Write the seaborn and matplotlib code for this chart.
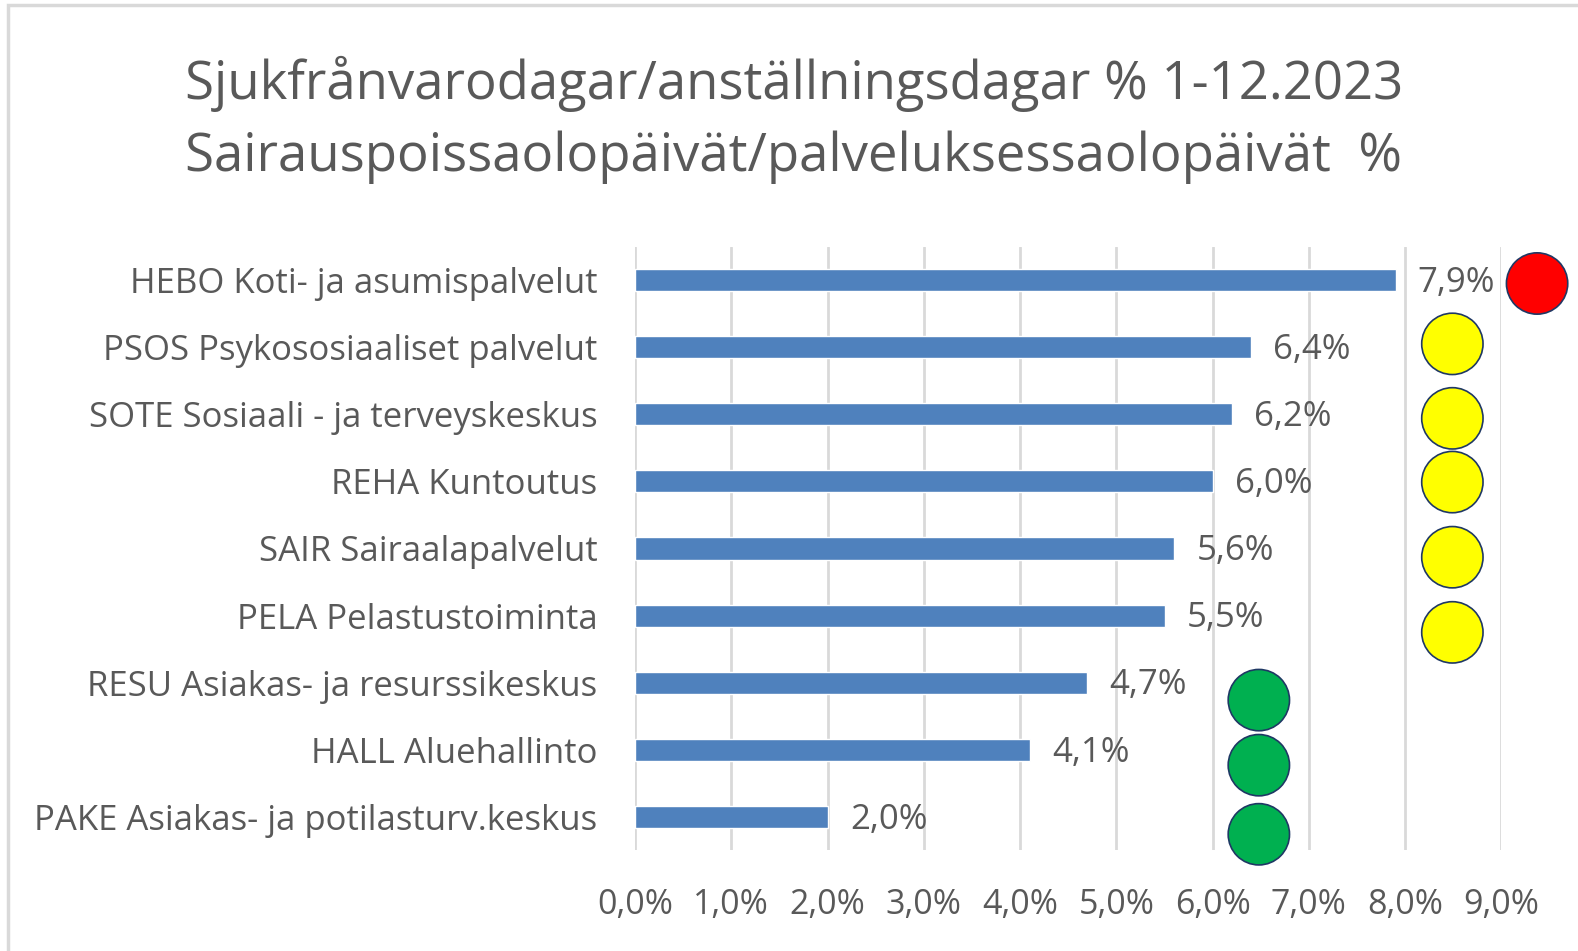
import matplotlib
matplotlib.use("Agg")
import matplotlib.pyplot as plt
import seaborn as sns
import pandas as pd
from matplotlib.patches import Rectangle

categories = [
    "HEBO Koti- ja asumispalvelut",
    "PSOS Psykososiaaliset palvelut",
    "SOTE Sosiaali - ja terveyskeskus",
    "REHA Kuntoutus",
    "SAIR Sairaalapalvelut",
    "PELA Pelastustoiminta",
    "RESU Asiakas- ja resurssikeskus",
    "HALL Aluehallinto",
    "PAKE Asiakas- ja potilasturv.keskus",
]
values = [7.9, 6.4, 6.2, 6.0, 5.6, 5.5, 4.7, 4.1, 2.0]
status = ["red", "yellow", "yellow", "yellow", "yellow", "yellow", "green", "green", "green"]
indicator_x = [9.37, 8.49, 8.49, 8.49, 8.49, 8.49, 6.48, 6.48, 6.48]
indicator_y = [0.05, 0.95, 2.06, 3.01, 4.13, 5.25, 6.26, 7.23, 8.26]
xticks = [0, 1, 2, 3, 4, 5, 6, 7, 8, 9]
title_lines = ["Sjukfrånvarodagar/anställningsdagar % 1-12.2023",
               "Sairauspoissaolopäivät/palveluksessaolopäivät  %"]

status_colors = {"red": "#FF0000", "yellow": "#FFFF00", "green": "#00B050"}
text_color = "#595959"

sns.set_theme(style="white")
plt.rcParams["font.family"] = ["Open Sans", "DejaVu Sans"]

fig = plt.figure(figsize=(15.78, 9.51), dpi=100)
ax = fig.add_axes([0.4024, 0.1058, 0.5491, 0.6349])

df = pd.DataFrame({"category": categories, "value": values})
sns.barplot(data=df, x="value", y="category", orient="h", color="#4F81BD",
            saturation=1, width=0.33, ax=ax, zorder=3)

ax.set_xlim(0, 9)
ax.set_ylim(8.5, -0.5)
ax.set_xticks(xticks)
ax.set_xticklabels([f"{t:.1f}%".replace(".", ",") for t in xticks])
ax.grid(axis="x", color="#D9D9D9", linewidth=2, zorder=0)
ax.set_axisbelow(True)
for s in ax.spines.values():
    s.set_visible(False)
ax.set_xlabel("")
ax.set_ylabel("")
ax.tick_params(axis="y", length=0, pad=27, labelsize=25, labelcolor=text_color)
ax.tick_params(axis="x", length=0, pad=27, labelsize=24.5, labelcolor=text_color)

for i, v in enumerate(values):
    ax.annotate(f"{v:.1f}%".replace(".", ","), xy=(v, i), xytext=(16, -2),
                textcoords="offset points", ha="left", va="center",
                fontsize=25, color=text_color)

ax.scatter(indicator_x, indicator_y, s=1950,
           c=[status_colors[s] for s in status],
           edgecolors="#1F3864", linewidths=1.2, zorder=5, clip_on=False)

fig.text(0.503, 0.912, title_lines[0], ha="center", va="center",
         fontsize=38, color=text_color)
fig.text(0.503, 0.835, title_lines[1], ha="center", va="center",
         fontsize=38, color=text_color)

fig.patches.append(Rectangle((8 / 1578, -0.1), 1.2, 1 - 5 / 951 + 0.1,
                             transform=fig.transFigure, fill=False,
                             edgecolor="#D9D9D9", linewidth=2.5))

fig.savefig("out.png", dpi=100)
